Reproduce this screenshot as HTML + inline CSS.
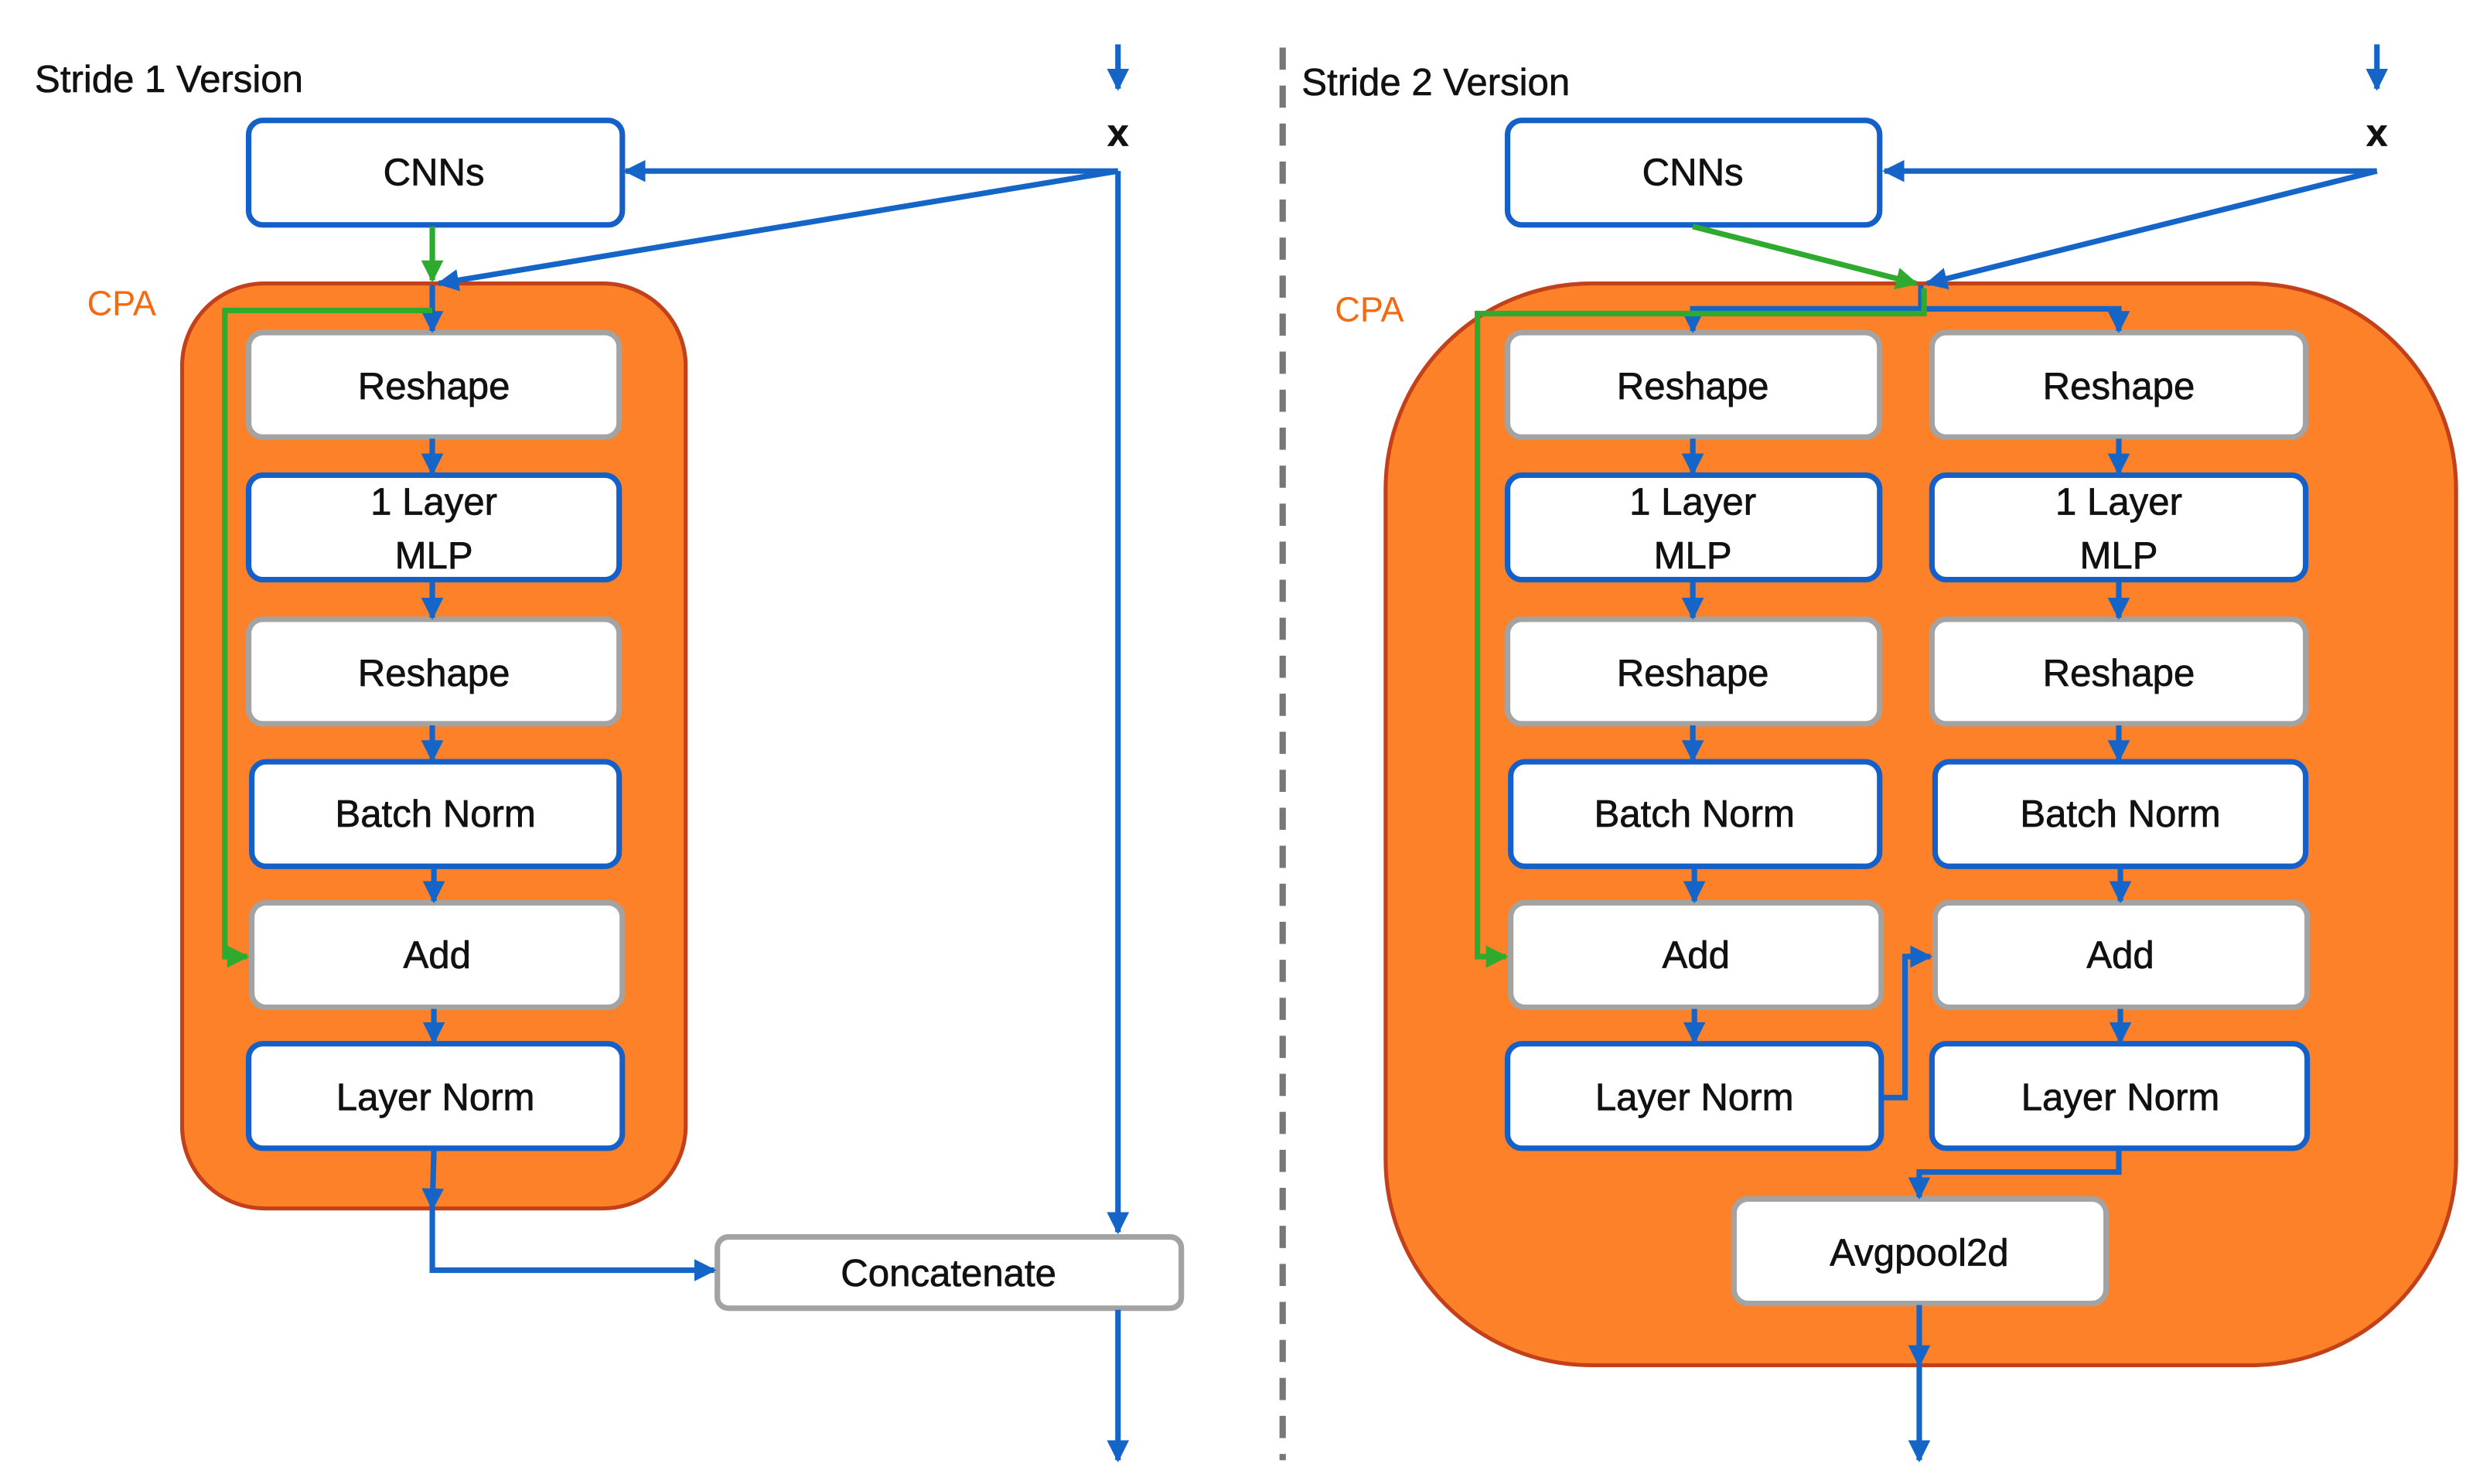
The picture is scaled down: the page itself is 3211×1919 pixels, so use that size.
<!DOCTYPE html>
<html><head><meta charset="utf-8"><style>
html,body{margin:0;padding:0;background:#fff;}
svg{display:block;}
text{font-family:"Liberation Sans",sans-serif;fill:#111;}
</style></head><body>
<svg width="3211" height="1919" viewBox="0 0 1568 937" preserveAspectRatio="none" xmlns="http://www.w3.org/2000/svg">
<defs>
<marker id="ab" viewBox="0 0 10 10" refX="9" refY="5" markerWidth="4" markerHeight="4" orient="auto" markerUnits="strokeWidth"><path d="M0,0 L10,5 L0,10 z" fill="#1565c8"/></marker>
<marker id="ag" viewBox="0 0 10 10" refX="9" refY="5" markerWidth="4" markerHeight="4" orient="auto" markerUnits="strokeWidth"><path d="M0,0 L10,5 L0,10 z" fill="#2eaa2e"/></marker>
</defs>
<g font-size="24">
<text x="22" y="58" stroke="#111" stroke-width="0.3">Stride 1 Version</text>
<text x="822" y="60" stroke="#111" stroke-width="0.3">Stride 2 Version</text>
</g>
<text x="55" y="199" font-size="22" style="fill:#f56a10">CPA</text>
<text x="843" y="203" font-size="22" style="fill:#f56a10">CPA</text>
<line x1="810" y1="30" x2="810" y2="922" stroke="#777" stroke-width="4" stroke-dasharray="14,10"/>

<rect x="115" y="179" width="318" height="584" rx="52" fill="#fd8128" stroke="#c2411a" stroke-width="2.5"/>
<rect x="875" y="179" width="676" height="683" rx="130" fill="#fd8128" stroke="#c2411a" stroke-width="2.5"/>

<g stroke-width="3.5" fill="#fff">
<rect x="157" y="76" width="236" height="66" rx="9" stroke="#1560c8"/>
<rect x="157" y="210" width="234" height="66" rx="9" stroke="#a3a3a3"/>
<rect x="157" y="300" width="234" height="66" rx="9" stroke="#1560c8"/>
<rect x="157" y="391" width="234" height="66" rx="9" stroke="#a3a3a3"/>
<rect x="159" y="481" width="232" height="66" rx="9" stroke="#1560c8"/>
<rect x="159" y="570" width="234" height="66" rx="9" stroke="#a3a3a3"/>
<rect x="157" y="659" width="236" height="66" rx="9" stroke="#1560c8"/>
<rect x="453" y="781" width="293" height="45" rx="7" stroke="#a3a3a3"/>
<rect x="952" y="76" width="235" height="66" rx="9" stroke="#1560c8"/>
<rect x="952" y="210" width="235" height="66" rx="9" stroke="#a3a3a3"/>
<rect x="952" y="300" width="235" height="66" rx="9" stroke="#1560c8"/>
<rect x="952" y="391" width="235" height="66" rx="9" stroke="#a3a3a3"/>
<rect x="954" y="481" width="233" height="66" rx="9" stroke="#1560c8"/>
<rect x="954" y="570" width="234" height="66" rx="9" stroke="#a3a3a3"/>
<rect x="952" y="659" width="236" height="66" rx="9" stroke="#1560c8"/>
<rect x="1220" y="210" width="236" height="66" rx="9" stroke="#a3a3a3"/>
<rect x="1220" y="300" width="236" height="66" rx="9" stroke="#1560c8"/>
<rect x="1220" y="391" width="236" height="66" rx="9" stroke="#a3a3a3"/>
<rect x="1222" y="481" width="234" height="66" rx="9" stroke="#1560c8"/>
<rect x="1222" y="570" width="235" height="66" rx="9" stroke="#a3a3a3"/>
<rect x="1220" y="659" width="237" height="66" rx="9" stroke="#1560c8"/>
<rect x="1095" y="757" width="235" height="66" rx="9" stroke="#a3a3a3"/>
</g>

<g font-size="24" text-anchor="middle" stroke="#111" stroke-width="0.35">
<text x="274" y="117">CNNs</text>
<text x="274" y="252">Reshape</text>
<text x="274" y="325">1 Layer</text>
<text x="274" y="359">MLP</text>
<text x="274" y="433">Reshape</text>
<text x="275" y="522">Batch Norm</text>
<text x="276" y="611">Add</text>
<text x="275" y="701">Layer Norm</text>
<text x="599" y="812">Concatenate</text>
<text x="1069" y="117">CNNs</text>
<text x="1069" y="252">Reshape</text>
<text x="1069" y="325">1 Layer</text>
<text x="1069" y="359">MLP</text>
<text x="1069" y="433">Reshape</text>
<text x="1070" y="522">Batch Norm</text>
<text x="1071" y="611">Add</text>
<text x="1070" y="701">Layer Norm</text>
<text x="1338" y="252">Reshape</text>
<text x="1338" y="325">1 Layer</text>
<text x="1338" y="359">MLP</text>
<text x="1338" y="433">Reshape</text>
<text x="1339" y="522">Batch Norm</text>
<text x="1339" y="611">Add</text>
<text x="1339" y="701">Layer Norm</text>
<text x="1212" y="799">Avgpool2d</text>
<text x="706" y="92" font-weight="bold">x</text>
<text x="1501" y="92" font-weight="bold">x</text>
</g>

<g stroke="#1565c8" stroke-width="3.5" fill="none" marker-end="url(#ab)">
<line x1="706" y1="28" x2="706" y2="56"/>
<line x1="706" y1="108" x2="395" y2="108"/>
<line x1="706" y1="108" x2="277" y2="179"/>
<line x1="706" y1="108" x2="706" y2="778"/>
<line x1="273" y1="180" x2="273" y2="209"/>
<line x1="273" y1="277" x2="273" y2="299"/>
<line x1="273" y1="367" x2="273" y2="390"/>
<line x1="273" y1="458" x2="273" y2="480"/>
<line x1="274" y1="548" x2="274" y2="569"/>
<line x1="274" y1="637" x2="274" y2="658"/>
<polyline points="274,726 273,763"/>
<polyline points="273,763 273,802 451,802"/>
<line x1="706" y1="827" x2="706" y2="922"/>
<line x1="1501" y1="28" x2="1501" y2="56"/>
<line x1="1501" y1="108" x2="1190" y2="108"/>
<line x1="1501" y1="108" x2="1217" y2="179"/>
<polyline points="1213,180 1213,195 1069,195 1069,209"/>
<polyline points="1213,195 1338,195 1338,209"/>
<line x1="1069" y1="277" x2="1069" y2="299"/>
<line x1="1069" y1="367" x2="1069" y2="390"/>
<line x1="1069" y1="458" x2="1069" y2="480"/>
<line x1="1070" y1="548" x2="1070" y2="569"/>
<line x1="1070" y1="637" x2="1070" y2="658"/>
<line x1="1338" y1="277" x2="1338" y2="299"/>
<line x1="1338" y1="367" x2="1338" y2="390"/>
<line x1="1338" y1="458" x2="1338" y2="480"/>
<line x1="1339" y1="548" x2="1339" y2="569"/>
<line x1="1339" y1="637" x2="1339" y2="658"/>
<polyline points="1189,693 1203,693 1203,604 1219,604"/>
<polyline points="1338,726 1338,740 1212,740 1212,756"/>
<line x1="1212" y1="824" x2="1212" y2="862"/>
<line x1="1212" y1="862" x2="1212" y2="922"/>
</g>
<g stroke="#2eaa2e" stroke-width="3.5" fill="none" marker-end="url(#ag)">
<line x1="273" y1="143" x2="273" y2="177"/>
<polyline points="273,196 142,196 142,604 156,604"/>
<line x1="1069" y1="143" x2="1210" y2="179"/>
<polyline points="1215,182 1215,198 933,198 933,604 951,604"/>
</g>
</svg>
</body></html>
